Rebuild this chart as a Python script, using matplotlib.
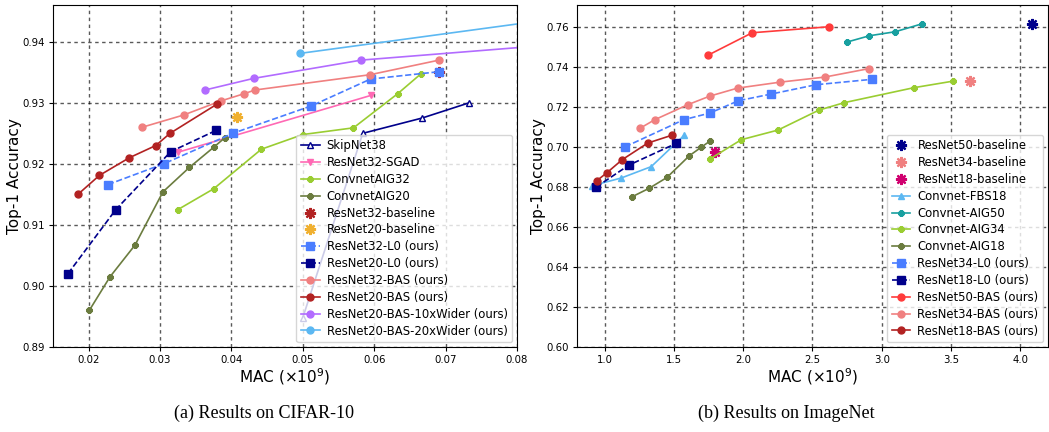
import numpy as np
import matplotlib
matplotlib.use('Agg')
import matplotlib.pyplot as plt

# ---- CIFAR-10 data ----
skip38_x = [0.0500, 0.0584, 0.0667, 0.0733]
skip38_y = [0.8948, 0.9250, 0.9275, 0.9300]
sgad32_x = [0.0325, 0.0595]
sgad32_y = [0.9219, 0.9312]
aig32_x = [0.0325, 0.0375, 0.0442, 0.0500, 0.0571, 0.0633, 0.0666]
aig32_y = [0.9125, 0.9159, 0.9224, 0.9248, 0.9259, 0.9315, 0.9348]
aig20_x = [0.0201, 0.0230, 0.0265, 0.0304, 0.0341, 0.0375, 0.0391]
aig20_y = [0.8960, 0.9015, 0.9067, 0.9154, 0.9194, 0.9227, 0.9243]
r32_base = (0.0691, 0.9351)
r20_base = (0.0408, 0.9276)
r32_l0_x = [0.0227, 0.0305, 0.0402, 0.0512, 0.0595, 0.0691]
r32_l0_y = [0.9166, 0.9200, 0.9250, 0.9295, 0.9339, 0.9351]
r20_l0_x = [0.0171, 0.0238, 0.0315, 0.0379]
r20_l0_y = [0.9020, 0.9125, 0.9220, 0.9255]
r32_bas_x = [0.0275, 0.0333, 0.0385, 0.0418, 0.0433, 0.0594, 0.0691]
r32_bas_y = [0.9260, 0.9280, 0.9303, 0.9315, 0.9321, 0.9346, 0.9370]
r20_bas_x = [0.0185, 0.0215, 0.0257, 0.0294, 0.0314, 0.0380]
r20_bas_y = [0.9150, 0.9181, 0.9210, 0.9230, 0.9250, 0.9298]
w10_x = [0.0363, 0.0431, 0.0582, 0.0850]
w10_y = [0.9321, 0.9340, 0.9370, 0.9395]
w20_x = [0.0496, 0.0900]
w20_y = [0.9381, 0.9445]

# ---- ImageNet data ----
r50_base = (4.087, 0.7617)
r34_base = (3.639, 0.7330)
r18_base = (1.795, 0.6977)
fbs18_x = [0.910, 1.119, 1.336, 1.576]
fbs18_y = [0.6807, 0.6845, 0.6902, 0.7060]
aig50_x = [2.752, 2.911, 3.097, 3.292]
aig50_y = [0.7526, 0.7557, 0.7577, 0.7617]
aig34_x = [1.759, 1.987, 2.251, 2.547, 2.728, 3.231, 3.516]
aig34_y = [0.6940, 0.7037, 0.7085, 0.7185, 0.7222, 0.7297, 0.7330]
aig18_x = [1.200, 1.322, 1.450, 1.612, 1.699, 1.764]
aig18_y = [0.6752, 0.6794, 0.6848, 0.6957, 0.7000, 0.7032]
r34_l0_x = [1.147, 1.571, 1.759, 1.966, 2.200, 2.526, 2.930]
r34_l0_y = [0.7001, 0.7137, 0.7170, 0.7232, 0.7265, 0.7312, 0.7339]
r18_l0_x = [0.939, 1.176, 1.518]
r18_l0_y = [0.6800, 0.6910, 0.7019]
r50_bas_x = [1.747, 2.065, 2.617]
r50_bas_y = [0.7460, 0.7572, 0.7602]
r34_bas_x = [1.255, 1.362, 1.600, 1.759, 1.959, 2.268, 2.587, 2.911]
r34_bas_y = [0.7094, 0.7137, 0.7212, 0.7255, 0.7295, 0.7325, 0.7350, 0.7393]
r18_bas_x = [0.944, 1.017, 1.127, 1.311, 1.489]
r18_bas_y = [0.6832, 0.6872, 0.6937, 0.7020, 0.7060]

navy = '#00008b'
pink = '#ff69b4'
ygreen = '#9acd32'
olive = '#6b7c3f'
fire = '#b22222'
gold = '#f0b030'
royal = '#4a7dff'
coral = '#f08080'
purple = '#b26bff'
sky = '#5cb8f2'
teal = '#18a0a0'
red = '#ff3b3b'
magenta = '#d0006f'
ast = (8, 2, 0)

fig = plt.figure(figsize=(10.49, 4.32), dpi=100)
ax1 = fig.add_axes([0.0505, 0.197, 0.4423, 0.791])
ax2 = fig.add_axes([0.550, 0.197, 0.449, 0.791])

kw = dict(lw=1.2, ms=5)
aig = dict(ls='-', marker=ast, mew=1.6, lw=1.2, ms=4.5)
base = dict(ls='none', marker=ast, mew=1.6, ms=8)
l0 = dict(ls='--', marker='s', lw=1.2, ms=5.5)

ax1.plot(skip38_x, skip38_y, '-^', color=navy, mfc='white', label='SkipNet38', **kw)
ax1.plot(sgad32_x, sgad32_y, '-v', color=pink, label='ResNet32-SGAD', **kw)
ax1.plot(aig32_x, aig32_y, color=ygreen, label='ConvnetAIG32', **aig)
ax1.plot(aig20_x, aig20_y, color=olive, label='ConvnetAIG20', **aig)
ax1.plot([r32_base[0]], [r32_base[1]], color=fire, label='ResNet32-baseline', **base)
ax1.plot([r20_base[0]], [r20_base[1]], color=gold, label='ResNet20-baseline', **base)
ax1.plot(r32_l0_x, r32_l0_y, color=royal, label='ResNet32-L0 (ours)', **l0)
ax1.plot(r20_l0_x, r20_l0_y, color=navy, label='ResNet20-L0 (ours)', **l0)
ax1.plot(r32_bas_x, r32_bas_y, '-o', color=coral, label='ResNet32-BAS (ours)', **kw)
ax1.plot(r20_bas_x, r20_bas_y, '-o', color=fire, label='ResNet20-BAS (ours)', **kw)
ax1.plot(w10_x, w10_y, '-o', color=purple, label='ResNet20-BAS-10xWider (ours)', **kw)
ax1.plot(w20_x, w20_y, '-o', color=sky, label='ResNet20-BAS-20xWider (ours)', **kw)
ax1.set_xlim(0.015, 0.08)
ax1.set_ylim(0.89, 0.946)
ax1.set_xticks([0.02, 0.03, 0.04, 0.05, 0.06, 0.07, 0.08])
ax1.set_yticks([0.89, 0.90, 0.91, 0.92, 0.93, 0.94])
ax1.set_yticklabels(['0.89', '0.90', '0.91', '0.92', '0.93', '0.94'])

ax2.plot([r50_base[0]], [r50_base[1]], color=navy, label='ResNet50-baseline', **base)
ax2.plot([r34_base[0]], [r34_base[1]], color=coral, label='ResNet34-baseline', **base)
ax2.plot([r18_base[0]], [r18_base[1]], color=magenta, label='ResNet18-baseline', **base)
ax2.plot(fbs18_x, fbs18_y, '-^', color=sky, label='Convnet-FBS18', **kw)
ax2.plot(aig50_x, aig50_y, color=teal, label='Convnet-AIG50', **aig)
ax2.plot(aig34_x, aig34_y, color=ygreen, label='Convnet-AIG34', **aig)
ax2.plot(aig18_x, aig18_y, color=olive, label='Convnet-AIG18', **aig)
ax2.plot(r34_l0_x, r34_l0_y, color=royal, label='ResNet34-L0 (ours)', **l0)
ax2.plot(r18_l0_x, r18_l0_y, color=navy, label='ResNet18-L0 (ours)', **l0)
ax2.plot(r50_bas_x, r50_bas_y, '-o', color=red, label='ResNet50-BAS (ours)', **kw)
ax2.plot(r34_bas_x, r34_bas_y, '-o', color=coral, label='ResNet34-BAS (ours)', **kw)
ax2.plot(r18_bas_x, r18_bas_y, '-o', color=fire, label='ResNet18-BAS (ours)', **kw)
ax2.set_xlim(0.8, 4.2)
ax2.set_ylim(0.60, 0.771)
ax2.set_xticks([1.0, 1.5, 2.0, 2.5, 3.0, 3.5, 4.0])
ax2.set_yticks([0.60, 0.62, 0.64, 0.66, 0.68, 0.70, 0.72, 0.74, 0.76])
ax2.set_yticklabels(['%.2f' % v for v in [0.60, 0.62, 0.64, 0.66, 0.68, 0.70, 0.72, 0.74, 0.76]])

for ax in (ax1, ax2):
    ax.grid(True, ls=(0, (2.5, 2.5)), color='black', lw=1.0, alpha=0.65)
    ax.set_axisbelow(True)
    ax.tick_params(labelsize=7.3, length=3, pad=3)
    ax.set_xlabel(r'MAC ($\times10^9$)', fontsize=11, labelpad=1)
    ax.set_ylabel('Top-1 Accuracy', fontsize=11, labelpad=0)
    ax.legend(loc='lower right', fontsize=8.4, labelspacing=0.33,
              handlelength=1.6, handletextpad=0.6, borderaxespad=0.4)

fig.text(0.252, 0.044, '(a) Results on CIFAR-10', ha='center', va='center',
         fontsize=13, family='Liberation Serif')
fig.text(0.750, 0.044, '(b) Results on ImageNet', ha='center', va='center',
         fontsize=13, family='Liberation Serif')

fig.savefig('out.png', dpi=100)
